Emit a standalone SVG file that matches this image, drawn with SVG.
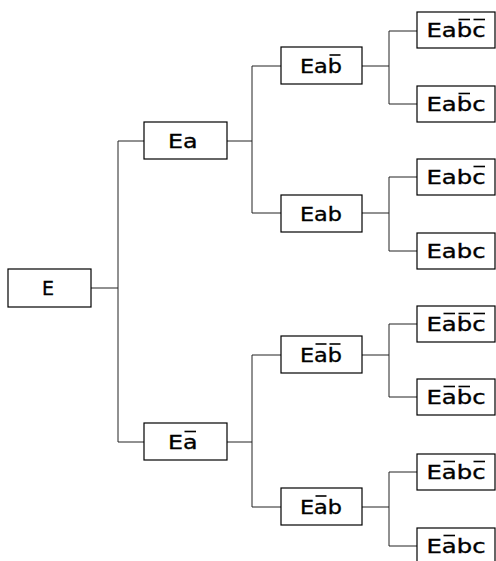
<svg xmlns="http://www.w3.org/2000/svg" width="496" height="561" viewBox="0 0 496 561">
  <style>
    .box { fill: #fff; stroke: #000; stroke-width: 1.2; }
    .lbl { font-family: "DejaVu Sans", "Liberation Sans", sans-serif; font-size: 19px; fill: #000; stroke: #000; stroke-width: 0.35; }
    .bar { stroke: #000; stroke-width: 1.6; }
    .wire { fill: none; stroke: #222; stroke-width: 1; }
  </style>
  <rect width="496" height="561" fill="#fff"/>

  <!-- tree connectors -->
  <g id="connectors" class="wire">
    <path d="M91 288H118M118 141V442M118 141H144M118 442H144"/>
    <path d="M227 141H252M252 66V213M252 66H281M252 213H281"/>
    <path d="M227 442H252M252 355V507M252 355H281M252 507H281"/>
    <path d="M362 66H389M389 31V104M389 31H417M389 104H417"/>
    <path d="M362 213H389M389 177V251M389 177H417M389 251H417"/>
    <path d="M362 355H389M389 324V397M389 324H417M389 397H417"/>
    <path d="M362 507H389M389 472V546M389 472H417M389 546H417"/>
  </g>

  <!-- root -->
  <g id="n-E">
    <rect class="box" x="8" y="269" width="83" height="38"/>
    <text class="lbl" x="48" y="295" text-anchor="middle">E</text>
  </g>

  <!-- level 1 -->
  <g id="n-Ea">
    <rect class="box" x="144" y="122" width="83" height="37"/>
    <text class="lbl" x="168" y="147.5" textLength="29.5" lengthAdjust="spacingAndGlyphs">Ea</text>
  </g>
  <g id="n-Ena">
    <rect class="box" x="144" y="423" width="83" height="37"/>
    <text class="lbl" x="168" y="448.5" textLength="29.5" lengthAdjust="spacingAndGlyphs">Ea</text>
    <line class="bar" x1="184.5" y1="431.5" x2="196" y2="431.5"/>
  </g>

  <!-- level 2 -->
  <g id="n-Eanb">
    <rect class="box" x="281" y="47" width="81" height="37"/>
    <text class="lbl" x="300" y="72.5" textLength="42" lengthAdjust="spacingAndGlyphs">Eab</text>
    <line class="bar" x1="329.5" y1="55" x2="340.5" y2="55"/>
  </g>
  <g id="n-Eab">
    <rect class="box" x="281" y="195" width="81" height="37"/>
    <text class="lbl" x="300" y="220.5" textLength="42" lengthAdjust="spacingAndGlyphs">Eab</text>
  </g>
  <g id="n-Enanb">
    <rect class="box" x="281" y="336" width="81" height="37"/>
    <text class="lbl" x="300" y="361.5" textLength="42" lengthAdjust="spacingAndGlyphs">Eab</text>
    <line class="bar" x1="315.5" y1="344" x2="326.5" y2="344"/>
    <line class="bar" x1="329.5" y1="344" x2="340.5" y2="344"/>
  </g>
  <g id="n-Enab">
    <rect class="box" x="281" y="488" width="81" height="37"/>
    <text class="lbl" x="300" y="513.5" textLength="42" lengthAdjust="spacingAndGlyphs">Eab</text>
    <line class="bar" x1="315.5" y1="496" x2="326.5" y2="496"/>
  </g>

  <!-- leaves -->
  <g id="n-Eanbnc">
    <rect class="box" x="417" y="12" width="78" height="36"/>
    <text class="lbl" x="426.5" y="37" textLength="59" lengthAdjust="spacingAndGlyphs">Eabc</text>
    <line class="bar" x1="458.5" y1="19.5" x2="470" y2="19.5"/>
    <line class="bar" x1="473.5" y1="19.5" x2="485" y2="19.5"/>
  </g>
  <g id="n-Eanbc">
    <rect class="box" x="417" y="86" width="78" height="36"/>
    <text class="lbl" x="426.5" y="111" textLength="59" lengthAdjust="spacingAndGlyphs">Eabc</text>
    <line class="bar" x1="458.5" y1="93.5" x2="470" y2="93.5"/>
  </g>
  <g id="n-Eabnc">
    <rect class="box" x="417" y="159" width="78" height="36"/>
    <text class="lbl" x="426.5" y="184" textLength="59" lengthAdjust="spacingAndGlyphs">Eabc</text>
    <line class="bar" x1="473.5" y1="166.5" x2="485" y2="166.5"/>
  </g>
  <g id="n-Eabc">
    <rect class="box" x="417" y="233" width="78" height="36"/>
    <text class="lbl" x="426.5" y="258" textLength="59" lengthAdjust="spacingAndGlyphs">Eabc</text>
  </g>
  <g id="n-Enanbnc">
    <rect class="box" x="417" y="306" width="78" height="36"/>
    <text class="lbl" x="426.5" y="331" textLength="59" lengthAdjust="spacingAndGlyphs">Eabc</text>
    <line class="bar" x1="443.5" y1="313.5" x2="455" y2="313.5"/>
    <line class="bar" x1="458.5" y1="313.5" x2="470" y2="313.5"/>
    <line class="bar" x1="473.5" y1="313.5" x2="485" y2="313.5"/>
  </g>
  <g id="n-Enanbc">
    <rect class="box" x="417" y="379" width="78" height="36"/>
    <text class="lbl" x="426.5" y="404" textLength="59" lengthAdjust="spacingAndGlyphs">Eabc</text>
    <line class="bar" x1="443.5" y1="386.5" x2="455" y2="386.5"/>
    <line class="bar" x1="458.5" y1="386.5" x2="470" y2="386.5"/>
  </g>
  <g id="n-Enabnc">
    <rect class="box" x="417" y="454" width="78" height="36"/>
    <text class="lbl" x="426.5" y="479" textLength="59" lengthAdjust="spacingAndGlyphs">Eabc</text>
    <line class="bar" x1="443.5" y1="461.5" x2="455" y2="461.5"/>
    <line class="bar" x1="473.5" y1="461.5" x2="485" y2="461.5"/>
  </g>
  <g id="n-Enabc">
    <rect class="box" x="417" y="528" width="78" height="36"/>
    <text class="lbl" x="426.5" y="553" textLength="59" lengthAdjust="spacingAndGlyphs">Eabc</text>
    <line class="bar" x1="443.5" y1="535.5" x2="455" y2="535.5"/>
  </g>
</svg>
